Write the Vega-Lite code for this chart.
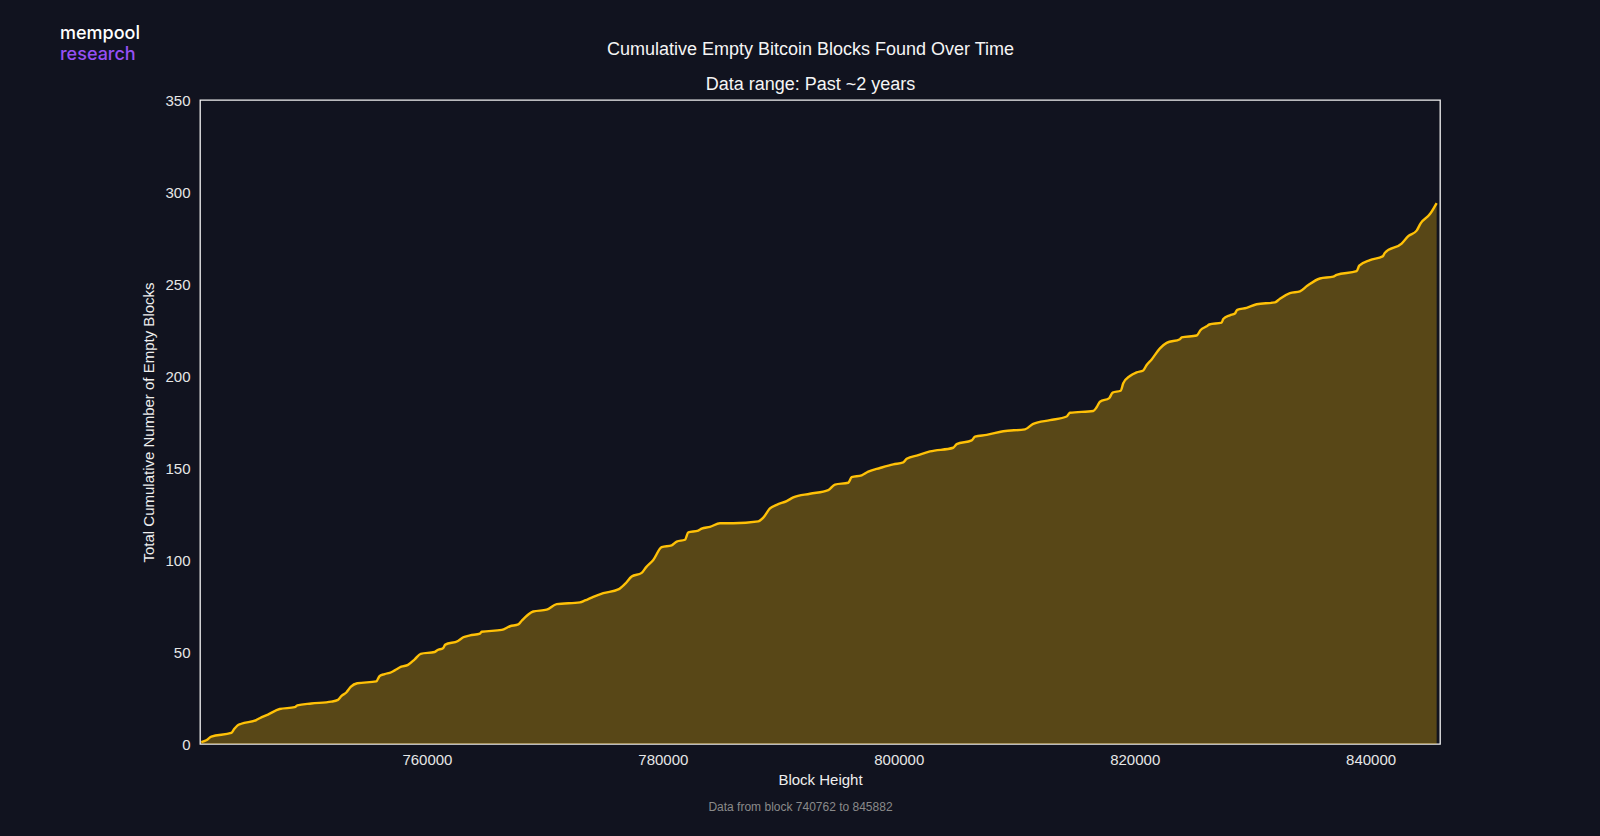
{
  "$schema": "https://vega.github.io/schema/vega-lite/v6.json",
  "autosize": {"type": "none"},
  "width": 1240,
  "height": 644,
  "padding": {"left": 200, "top": 100, "right": 160, "bottom": 92},
  "background": "#11131f",
  "config": {
    "view": {"stroke": "#f2f2f2", "strokeWidth": 1.3, "fill": "#11131f"},
    "font": "Liberation Sans",
    "axis": {"grid": false, "ticks": false, "domain": false, "labelFont": "Liberation Sans", "titleFont": "Liberation Sans", "labelColor": "#e6e6e6", "titleColor": "#eeeeee", "labelFontSize": 15, "titleFontSize": 15, "titleFontWeight": "normal"}
  },
  "title": {
    "text": "mempool",
    "subtitle": "research",
    "anchor": "start",
    "frame": "group",
    "orient": "top",
    "dx": -140,
    "dy": 24,
    "offset": 0,
    "font": "Inter",
    "subtitleFont": "Inter",
    "fontSize": 18,
    "subtitleFontSize": 18,
    "fontWeight": 500,
    "subtitleFontWeight": 500,
    "color": "#ffffff",
    "subtitleColor": "#9650f5",
    "subtitlePadding": 3
  },
  "data": {
    "values": [
      {"block": 740872, "empty": 1},
      {"block": 741296, "empty": 2},
      {"block": 741720, "empty": 4},
      {"block": 743415, "empty": 6},
      {"block": 743644, "empty": 8},
      {"block": 743924, "empty": 10},
      {"block": 744263, "empty": 11},
      {"block": 745535, "empty": 13},
      {"block": 745823, "empty": 14},
      {"block": 746526, "empty": 16},
      {"block": 747518, "empty": 19},
      {"block": 748790, "empty": 20},
      {"block": 749010, "empty": 21},
      {"block": 750197, "empty": 22},
      {"block": 751892, "empty": 23},
      {"block": 752460, "empty": 24},
      {"block": 752740, "empty": 26},
      {"block": 753164, "empty": 28},
      {"block": 753537, "empty": 31},
      {"block": 754096, "empty": 33},
      {"block": 755707, "empty": 34},
      {"block": 755995, "empty": 37},
      {"block": 756419, "empty": 38},
      {"block": 756978, "empty": 39},
      {"block": 757267, "empty": 40},
      {"block": 757826, "empty": 42},
      {"block": 758394, "empty": 43},
      {"block": 758962, "empty": 46},
      {"block": 759471, "empty": 49},
      {"block": 760658, "empty": 50},
      {"block": 760878, "empty": 51},
      {"block": 761361, "empty": 52},
      {"block": 761556, "empty": 54},
      {"block": 762633, "empty": 56},
      {"block": 763082, "empty": 58},
      {"block": 763650, "empty": 59},
      {"block": 764498, "empty": 60},
      {"block": 764642, "empty": 61},
      {"block": 766337, "empty": 62},
      {"block": 767041, "empty": 64},
      {"block": 767744, "empty": 65},
      {"block": 768032, "empty": 67},
      {"block": 769016, "empty": 72},
      {"block": 770152, "empty": 73},
      {"block": 770999, "empty": 76},
      {"block": 772975, "empty": 77},
      {"block": 773398, "empty": 78},
      {"block": 774102, "empty": 80},
      {"block": 774950, "empty": 82},
      {"block": 776221, "empty": 84},
      {"block": 776789, "empty": 87},
      {"block": 777357, "empty": 91},
      {"block": 778205, "empty": 93},
      {"block": 778569, "empty": 96},
      {"block": 779188, "empty": 100},
      {"block": 779900, "empty": 107},
      {"block": 780748, "empty": 108},
      {"block": 781172, "empty": 110},
      {"block": 781875, "empty": 111},
      {"block": 782155, "empty": 115},
      {"block": 783003, "empty": 116},
      {"block": 783291, "empty": 117},
      {"block": 783995, "empty": 118},
      {"block": 784842, "empty": 120},
      {"block": 785970, "empty": 120},
      {"block": 788089, "empty": 121},
      {"block": 788513, "empty": 123},
      {"block": 789081, "empty": 128},
      {"block": 789649, "empty": 130},
      {"block": 790496, "empty": 132},
      {"block": 791056, "empty": 134},
      {"block": 792472, "empty": 136},
      {"block": 794023, "empty": 138},
      {"block": 794591, "empty": 141},
      {"block": 795718, "empty": 142},
      {"block": 796007, "empty": 145},
      {"block": 796854, "empty": 146},
      {"block": 797414, "empty": 148},
      {"block": 798406, "empty": 150},
      {"block": 799533, "empty": 152},
      {"block": 800381, "empty": 153},
      {"block": 800669, "empty": 155},
      {"block": 801652, "empty": 157},
      {"block": 802644, "empty": 159},
      {"block": 804619, "empty": 161},
      {"block": 804908, "empty": 163},
      {"block": 806179, "empty": 165},
      {"block": 806459, "empty": 167},
      {"block": 807451, "empty": 168},
      {"block": 808858, "empty": 170},
      {"block": 810697, "empty": 171},
      {"block": 811401, "empty": 174},
      {"block": 812817, "empty": 176},
      {"block": 814232, "empty": 178},
      {"block": 814512, "empty": 180},
      {"block": 816487, "empty": 181},
      {"block": 816775, "empty": 183},
      {"block": 817055, "empty": 186},
      {"block": 817843, "empty": 188},
      {"block": 818131, "empty": 191},
      {"block": 818810, "empty": 192},
      {"block": 819030, "empty": 196},
      {"block": 819598, "empty": 200},
      {"block": 820166, "empty": 202},
      {"block": 820726, "empty": 203},
      {"block": 821014, "empty": 206},
      {"block": 821438, "empty": 209},
      {"block": 822141, "empty": 215},
      {"block": 822709, "empty": 218},
      {"block": 823837, "empty": 220},
      {"block": 823981, "empty": 221},
      {"block": 825252, "empty": 222},
      {"block": 825591, "empty": 225},
      {"block": 826100, "empty": 227},
      {"block": 826320, "empty": 228},
      {"block": 827372, "empty": 229},
      {"block": 827507, "empty": 231},
      {"block": 828075, "empty": 233},
      {"block": 828499, "empty": 234},
      {"block": 828694, "empty": 236},
      {"block": 829491, "empty": 237},
      {"block": 830338, "empty": 239},
      {"block": 831890, "empty": 240},
      {"block": 832314, "empty": 242},
      {"block": 833161, "empty": 245},
      {"block": 834009, "empty": 246},
      {"block": 834628, "empty": 249},
      {"block": 835704, "empty": 253},
      {"block": 836832, "empty": 254},
      {"block": 837120, "empty": 255},
      {"block": 838815, "empty": 257},
      {"block": 839036, "empty": 260},
      {"block": 839943, "empty": 263},
      {"block": 841019, "empty": 265},
      {"block": 841214, "empty": 267},
      {"block": 842630, "empty": 272},
      {"block": 843190, "empty": 276},
      {"block": 843901, "empty": 279},
      {"block": 844241, "empty": 283},
      {"block": 845029, "empty": 288},
      {"block": 845597, "empty": 294}
    ]
  },
  "resolve": {"axis": {"x": "independent", "y": "independent"}},
  "layer": [
    {
      "mark": {"type": "area", "color": "#ffc107", "opacity": 0.3, "interpolate": "monotone"},
      "encoding": {
        "x": {
          "field": "block", "type": "quantitative",
          "scale": {"domain": [740762, 845882], "nice": false, "zero": false},
          "axis": {"orient": "bottom", "title": "Block Height", "values": [760000, 780000, 800000, 820000, 840000], "format": "d", "labelPadding": 8, "titlePadding": 5}
        },
        "y": {
          "field": "empty", "type": "quantitative",
          "scale": {"domain": [0, 350], "nice": false},
          "axis": {"orient": "left", "title": "Total Cumulative Number of Empty Blocks", "values": [0, 50, 100, 150, 200, 250, 300, 350], "labelPadding": 10, "titlePadding": 8}
        }
      }
    },
    {
      "mark": {"type": "line", "color": "#ffc107", "strokeWidth": 2.4, "interpolate": "monotone"},
      "encoding": {
        "x": {
          "field": "block", "type": "quantitative",
          "axis": {"orient": "top", "labels": false, "title": ["Cumulative Empty Bitcoin Blocks Found Over Time", "Data range: Past ~2 years"], "titleFontSize": 18, "titleColor": "#f5f5f5", "titleLineHeight": 35, "titleX": 610, "titleY": -46, "titleAlign": "center", "titleBaseline": "alphabetic", "titleAngle": 0}
        },
        "y": {
          "field": "empty", "type": "quantitative",
          "axis": {"orient": "right", "labels": false, "title": "Data from block 740762 to 845882", "titleFontSize": 12, "titleColor": "#8a8a8a", "titleAngle": 0, "titleX": -640, "titleY": 706, "titleAlign": "center", "titleBaseline": "middle"}
        }
      }
    }
  ]
}
